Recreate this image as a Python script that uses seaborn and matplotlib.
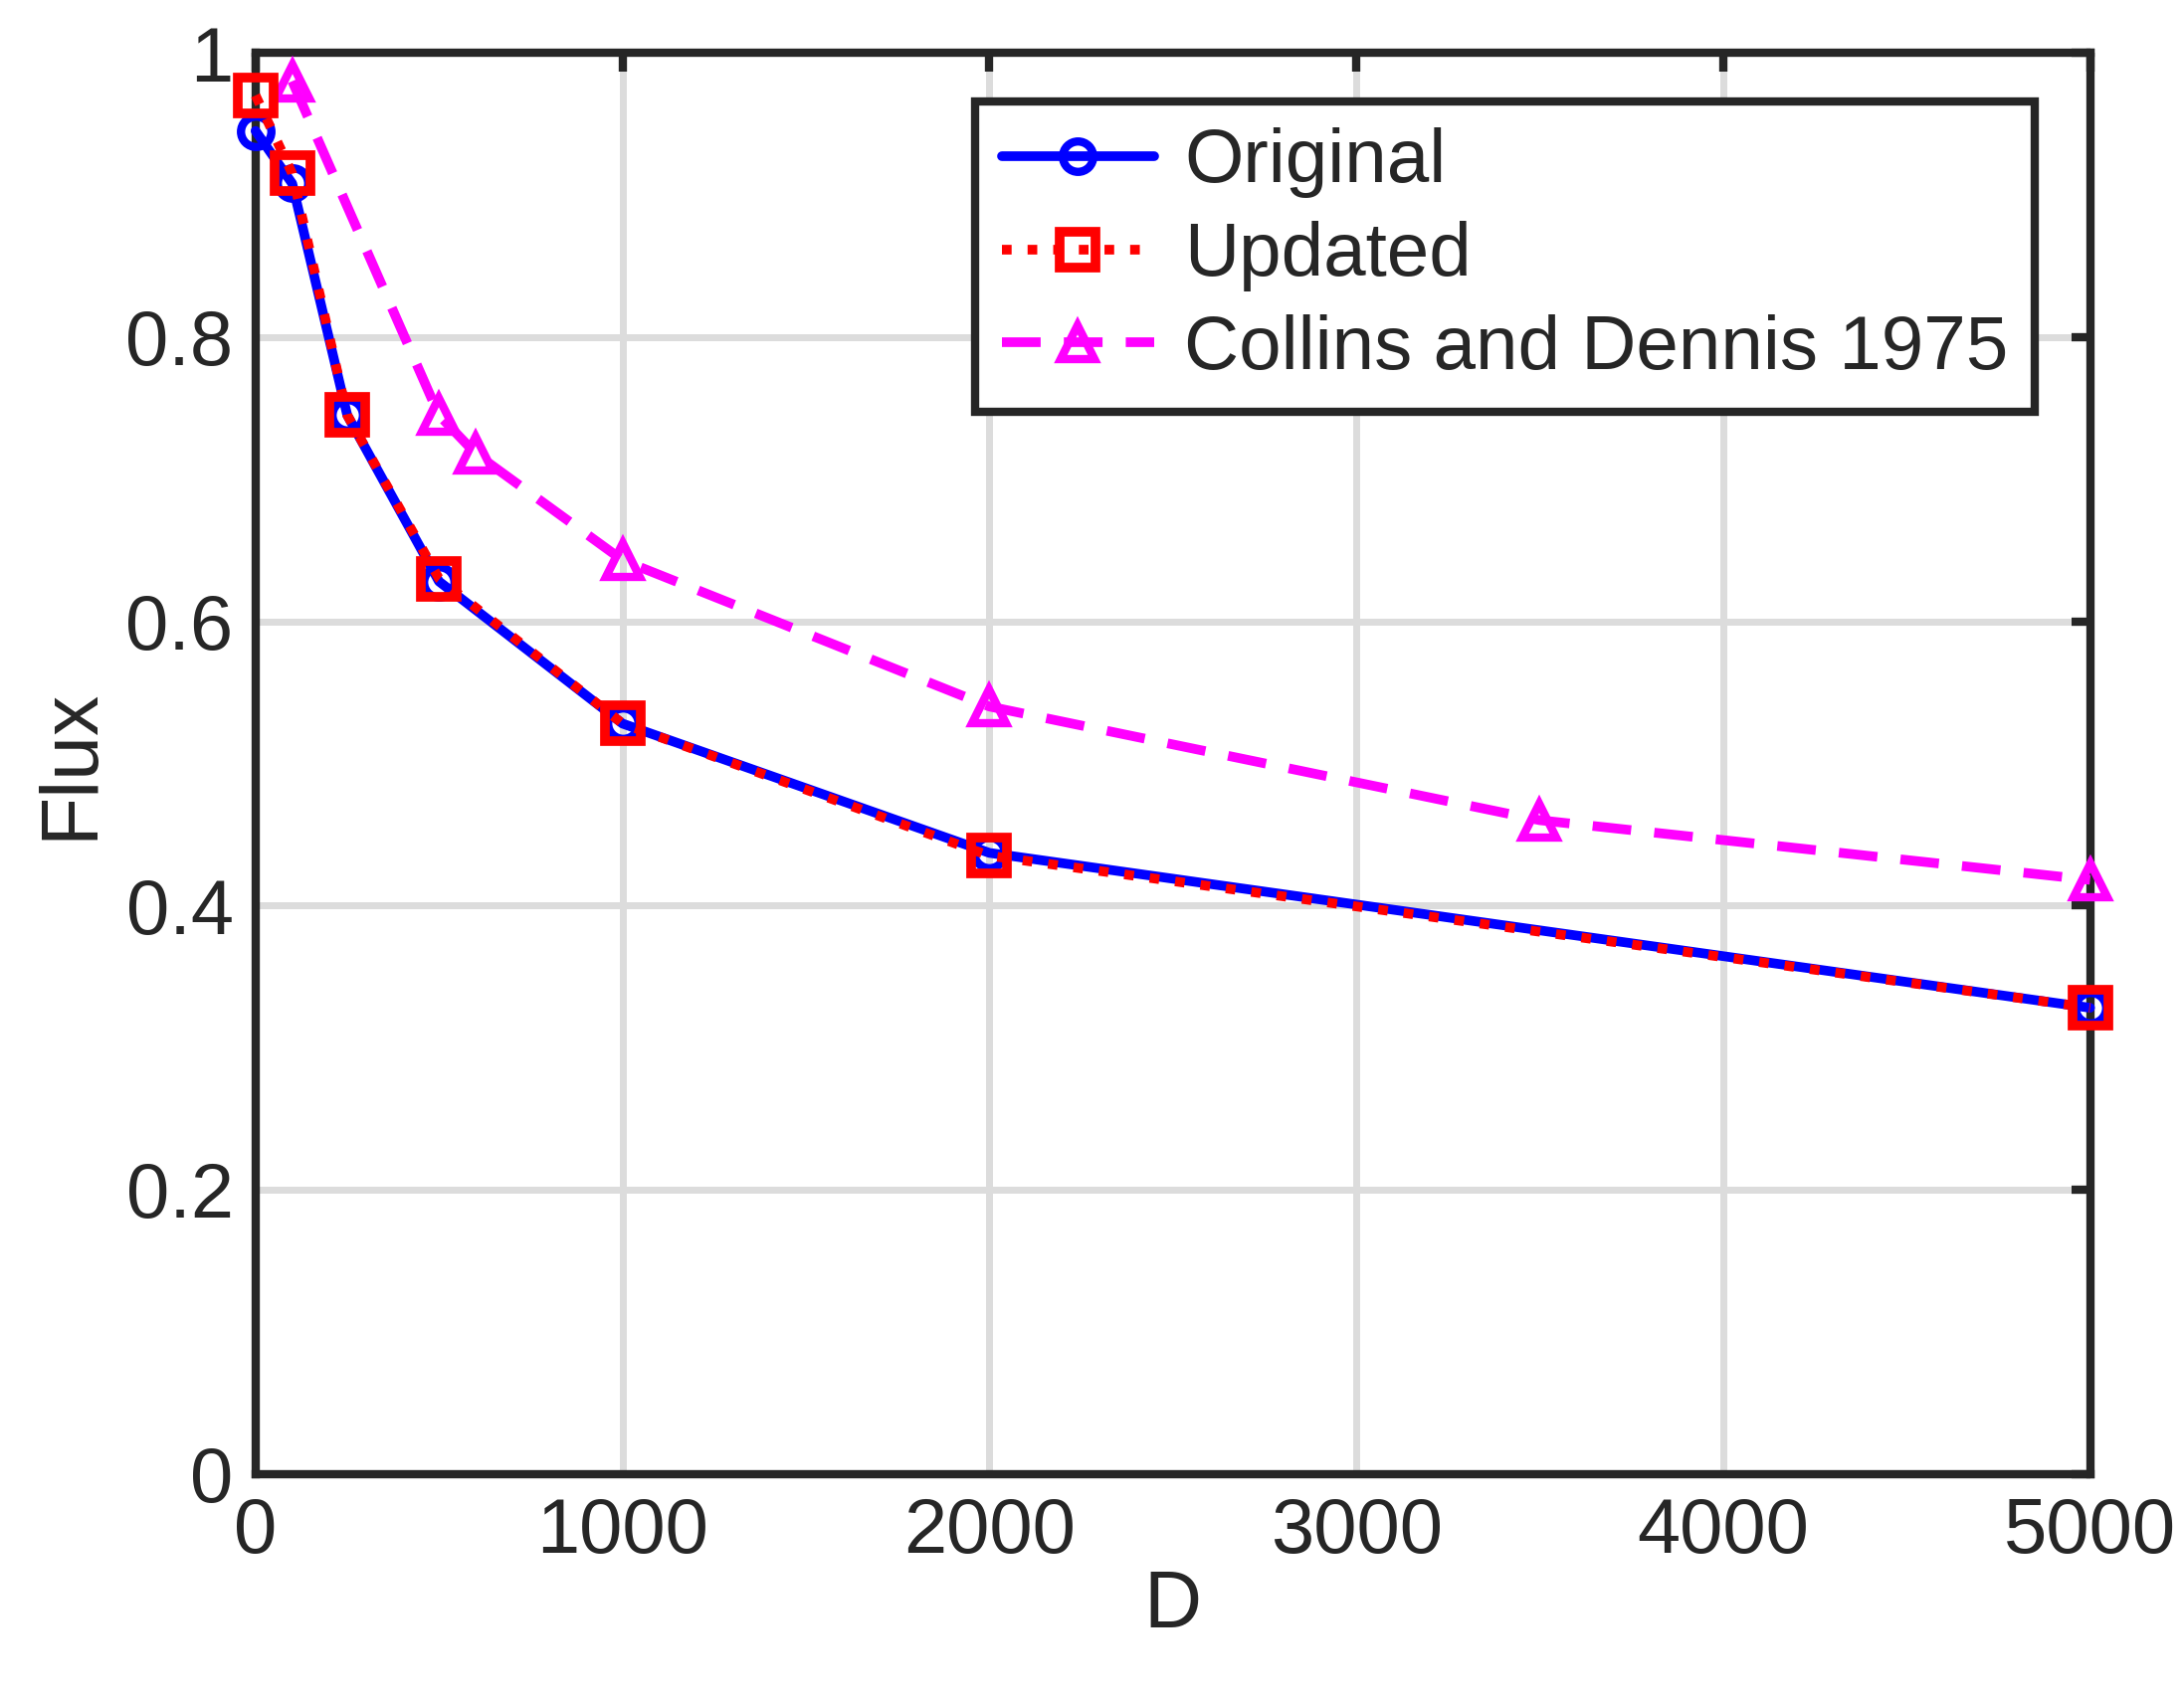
import matplotlib
matplotlib.use("Agg")
import matplotlib.pyplot as plt
import seaborn as sns
import pandas as pd

# data
d_vals = [0, 100, 250, 500, 1000, 2000, 5000]
flux_original = [0.945, 0.908, 0.745, 0.628, 0.528, 0.437, 0.328]
flux_updated = [0.970, 0.915, 0.745, 0.630, 0.528, 0.435, 0.328]
d_collins = [100, 500, 600, 1000, 2000, 3500, 5000]
flux_collins = [0.980, 0.745, 0.718, 0.643, 0.540, 0.460, 0.418]

sns.set_style("white")
plt.rcParams['font.family'] = ['Liberation Sans', 'DejaVu Sans']

fig = plt.figure(figsize=(21.95, 17.11), dpi=100)
ax = fig.add_axes([0.117, 0.134, 0.840, 0.835])

df_o = pd.DataFrame({"D": d_vals, "Flux": flux_original})
df_u = pd.DataFrame({"D": d_vals, "Flux": flux_updated})
df_c = pd.DataFrame({"D": d_collins, "Flux": flux_collins})

sns.lineplot(data=df_o, x="D", y="Flux", ax=ax, color="blue", lw=7, marker="o",
             markersize=22, markerfacecolor="none", markeredgecolor="blue",
             markeredgewidth=6, label="Original", zorder=3, clip_on=False)
sns.lineplot(data=df_u, x="D", y="Flux", ax=ax, color="red", lw=7, ls=":", marker="s",
             markersize=26, markerfacecolor="none", markeredgecolor="red",
             markeredgewidth=7, label="Updated", zorder=4, clip_on=False)
sns.lineplot(data=df_c, x="D", y="Flux", ax=ax, color="magenta", lw=7, dashes=(4, 2.4),
             marker="^", markersize=24, markerfacecolor="none", markeredgecolor="magenta",
             markeredgewidth=6, label="Collins and Dennis 1975", zorder=3, clip_on=False)

ax.set_xlim(0, 5000)
ax.set_ylim(0, 1)
ax.set_xticks([0, 1000, 2000, 3000, 4000, 5000])
ax.set_yticks([0, 0.2, 0.4, 0.6, 0.8, 1])
ax.set_yticklabels(["0", "0.2", "0.4", "0.6", "0.8", "1"])
ax.grid(True, color="#dcdcdc", lw=5)
ax.set_axisbelow(True)
for s in ax.spines.values():
    s.set_linewidth(6)
    s.set_color("#262626")
ax.tick_params(labelsize=56, colors="#262626", direction="in", length=14, width=6,
               top=True, right=True, pad=16)
ax.set_xlabel("D", fontsize=58, color="#262626", labelpad=0)
ax.set_ylabel("Flux", fontsize=58, color="#262626", labelpad=12)

leg = ax.legend(loc="upper right", bbox_to_anchor=(0.97, 0.966), fontsize=55,
                frameon=True, fancybox=False, framealpha=1, handlelength=2.0,
                handletextpad=0.4, borderpad=0.35, labelspacing=0.3, borderaxespad=0)
leg.get_frame().set_edgecolor("#262626")
leg.get_frame().set_linewidth(6)

fig.savefig("out.png", dpi=100)
